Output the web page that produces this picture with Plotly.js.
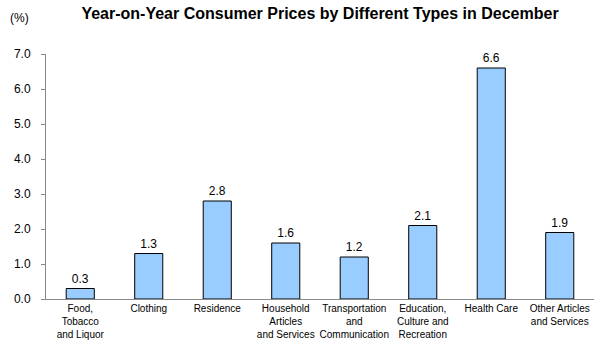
<!DOCTYPE html>
<html><head><meta charset="utf-8">
<script src="https://cdn.plot.ly/plotly-3.0.1.min.js"></script>
<style>html,body{margin:0;padding:0;background:#fff}</style>
</head><body><div id="chart" style="width:604px;height:354px"></div>
<script>
const categories = ["Food,<br>Tobacco<br>and Liquor","Clothing","Residence","Household<br>Articles<br>and Services","Transportation<br>and<br>Communication","Education,<br>Culture and<br>Recreation","Health Care","Other Articles<br>and Services"];
const values = [0.3, 1.3, 2.8, 1.6, 1.2, 2.1, 6.6, 1.9];
const tickVals = [0,1,2,3,4,5,6,7];
const tickText = ["0.0","1.0","2.0","3.0","4.0","5.0","6.0","7.0"];

const trace = {
  type: "bar",
  x: categories,
  y: values,
  width: 0.41,
  marker: {color: "#99CCFF", line: {color: "#000", width: 1}},
  text: values.map(v => v.toFixed(1)),
  textposition: "outside",
  cliponaxis: false,
  textfont: {family: "Liberation Sans, Arial, sans-serif", size: 12, color: "#000"},
  hoverinfo: "none"
};
const layout = {
  width: 604, height: 354,
  margin: {l: 46, r: 10, t: 54, b: 55},
  paper_bgcolor: "#fff", plot_bgcolor: "#fff",
  showlegend: false,
  font: {family: "Liberation Sans, Arial, sans-serif", color: "#000"},
  title: {text: "<b>Year-on-Year Consumer Prices by Different Types in December</b>",
          font: {size: 16, family: "Liberation Sans, Arial, sans-serif", color: "#000"},
          x: 0.5, xref: "paper", y: 0.962, yref: "container", xanchor: "center", yanchor: "middle"},
  xaxis: {showline: true, linecolor: "#888", linewidth: 1, ticks: "", showgrid: false,
          tickfont: {size: 10}, tickangle: 0, fixedrange: true},
  yaxis: {range: [0, 7], tickvals: tickVals, ticktext: tickText, showline: true,
          linecolor: "#888", linewidth: 1, ticks: "outside", ticklen: 4, tickcolor: "#888",
          showgrid: false, zeroline: false, tickfont: {size: 12}, ticklabelstandoff: 8},
  annotations: [{text: "(%)", xref: "paper", yref: "paper", x: -0.048, y: 1.145,
                 xanchor: "center", yanchor: "middle", showarrow: false, font: {size: 12}}]
};
Plotly.newPlot("chart", [trace], layout, {displayModeBar: false, staticPlot: true});
</script></body></html>
